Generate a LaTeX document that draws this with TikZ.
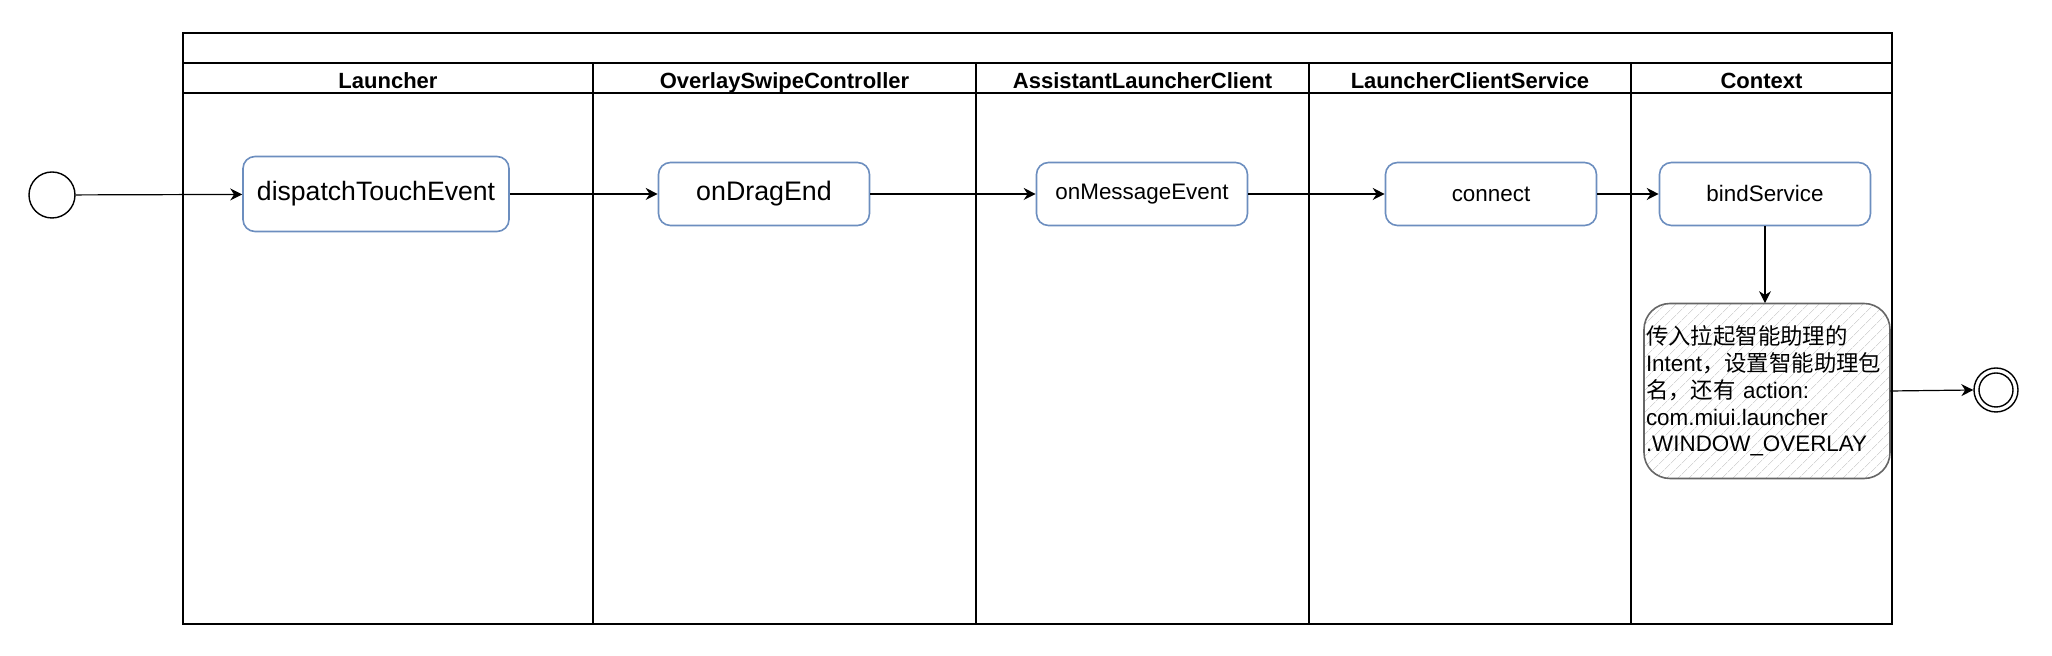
\documentclass[tikz,border=0pt]{standalone}
\usepackage{fontspec}
\setmainfont{Liberation Sans}
\newfontfamily\cjk{Noto Sans CJK SC}
\usetikzlibrary{arrows.meta,patterns.meta}
\definecolor{boxblue}{HTML}{6C8EBF}
\definecolor{notegray}{HTML}{666666}
\definecolor{hatch}{HTML}{D6D6D6}
\begin{document}
\begin{tikzpicture}[x=0.5pt,y=-0.5pt,
  pool/.style={draw=black, line width=0.9pt},
  lanesep/.style={draw=black, line width=0.6pt},
  hdr/.style={font=\bfseries\fontsize{11}{13}\selectfont, anchor=base, inner sep=0pt},
  act/.style={draw=boxblue, line width=0.8pt, rounded corners=6pt, fill=white, align=center,
    minimum width=105.5pt, minimum height=31.5pt, inner sep=0pt,
    font=\fontsize{11.2}{13.4}\selectfont},
  bigact/.style={act, minimum width=133pt, minimum height=37.5pt, font=\fontsize{13.3}{16}\selectfont},
  midact/.style={act, font=\fontsize{13.4}{16}\selectfont},
  note/.style={draw=notegray, line width=0.8pt, rounded corners=13pt,
    pattern={Lines[angle=45,distance=4pt,line width=0.35pt]}, pattern color=hatch,
    minimum height=87.5pt, text width=121pt, inner xsep=1pt, inner ysep=0pt, align=left,
    font=\fontsize{11.2}{13.4}\selectfont},
  startst/.style={circle, draw=black, line width=0.7pt, minimum size=23pt, inner sep=0pt},
  endst/.style={circle, draw=black, line width=0.7pt, inner sep=0pt},
  flow/.style={-{Stealth[length=6pt,width=6pt]}, line width=0.6pt}
]
\useasboundingbox (0,0) rectangle (2052,656);
% pool and lanes
\draw[pool] (183,33) rectangle (1892,624);
\draw[pool] (183,63) -- (1892,63);
\draw[pool] (183,93) -- (1892,93);
\draw[line width=1.3pt] (183,624) -- (1892,624);
\foreach \x in {593,976,1309,1631} \draw[lanesep] (\x,63) -- (\x,624);
% headers
\node[hdr] (h1) at (388,89) {Launcher};
\node[hdr] (h2) at (784.5,89) {OverlaySwipeController};
\node[hdr] (h3) at (1142.5,89) {AssistantLauncherClient};
\node[hdr] (h4) at (1470,89) {LauncherClientService};
\node[hdr] (h5) at (1761.5,89) {Context};
% nodes
\node[startst] (s) at (52,195) {};
\node[bigact] (d) at (376,194) {dispatchTouchEvent};
\node[midact] (o) at (764,194) {onDragEnd};
\node[act] (m) at (1142,194) {onMessageEvent};
\node[act] (c) at (1491,194) {connect};
\node[act] (b) at (1765,194) {bindService};
\node[note] (n) at (1767,391) {{\cjk 传入拉起智能助理的}\\Intent{\cjk ，设置智能助理包}\\{\cjk 名，还有} action:\\com.miui.launcher\\.WINDOW\_OVERLAY};
\node[endst, minimum size=22pt] (e) at (1996,390) {};
\node[endst, minimum size=17pt] (ei) at (e) {};
% connectors
\draw[flow] (s) -- (d);
\draw[flow] (d) -- (o);
\draw[flow] (o) -- (m);
\draw[flow] (m) -- (c);
\draw[flow] (c) -- (b);
\draw[flow] (b.south) -- (b.south |- n.north);
\draw[flow] (n.east) -- (e.west);
\end{tikzpicture}
\end{document}
